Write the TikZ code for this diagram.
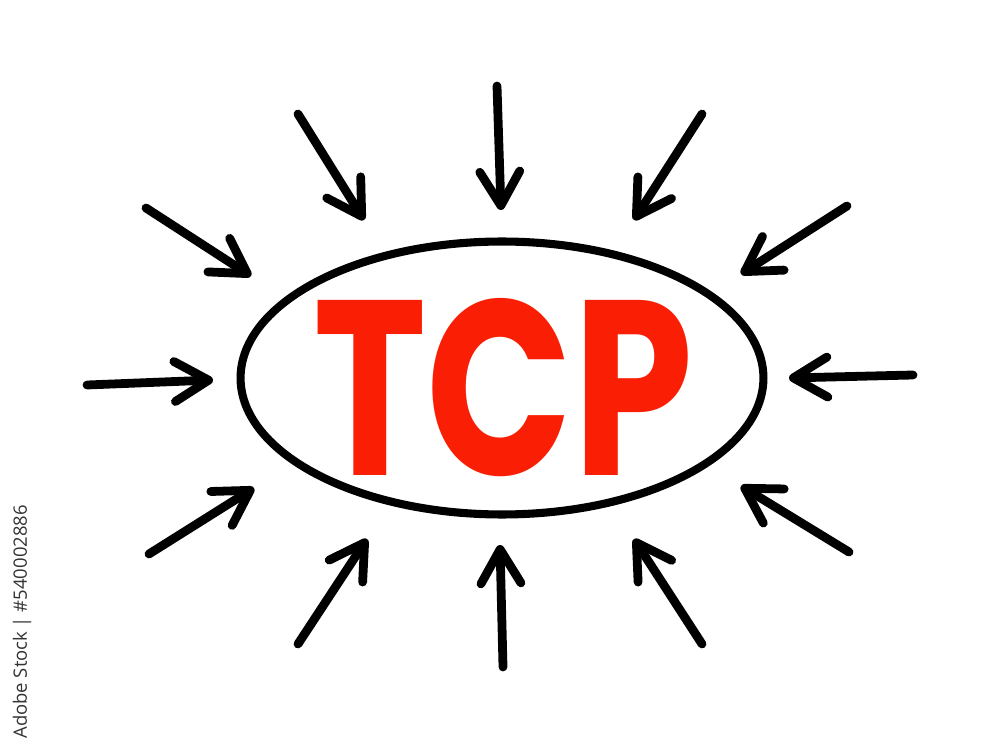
\documentclass[tikz,border=0pt]{standalone}
\usepackage{fontspec}
\setmainfont{Poppins}
\newfontfamily\wmfont{Open Sans}
\usetikzlibrary{arrows.meta,shapes.geometric}
\definecolor{tcpred}{RGB}{250,30,5}
\begin{document}
\begin{tikzpicture}[x=0.02cm,y=-0.02cm,
  arr/.style={line width=5pt, line cap=round, line join=round,
    -{Straight Barb[length=0.68cm,width=0.8cm,line cap=round,line join=round]}},
  ring/.style={draw, line width=4.6pt, ellipse, inner sep=0pt,
    minimum width=10.46cm, minimum height=5.46cm},
  bigtext/.style={text=tcpred, inner sep=0pt, xscale=0.77,
    font=\fontsize{142}{142}\selectfont\bfseries},
  wmark/.style={rotate=90, anchor=west, inner sep=0pt, text=black!80,
    font=\wmfont\fontsize{10.5}{10.5}\selectfont}
]
\useasboundingbox (0,0) rectangle (1000,756);
\fill[white] (0,0) rectangle (1000,756);

\node[ring] (tcp) at (502,378) {};
\node[bigtext] (label) at (503,388) {TCP};

% tails and heads
\coordinate (t1) at (497,86);   \coordinate (h1) at (501,210);
\coordinate (t2) at (298,114);  \coordinate (h2) at (364,220);
\coordinate (t3) at (702,114);  \coordinate (h3) at (634,220);
\coordinate (t4) at (146,208);  \coordinate (h4) at (251,276);
\coordinate (t5) at (847,206);  \coordinate (h5) at (741,274);
\coordinate (t6) at (87,385);   \coordinate (h6) at (213,380);
\coordinate (t7) at (913,375);  \coordinate (h7) at (789,378);
\coordinate (t8) at (149,554);  \coordinate (h8) at (254,488);
\coordinate (t9) at (849,552);  \coordinate (h9) at (741,486);
\coordinate (t10) at (298,644); \coordinate (h10) at (367,539);
\coordinate (t11) at (503,667); \coordinate (h11) at (500,545);
\coordinate (t12) at (702,644); \coordinate (h12) at (634,539);

\foreach \i in {1,...,12} {\draw[arr] (t\i) -- (h\i);}

\node[wmark] (id) at (22,739) {Adobe Stock | \#540002886};
\end{tikzpicture}
\end{document}
